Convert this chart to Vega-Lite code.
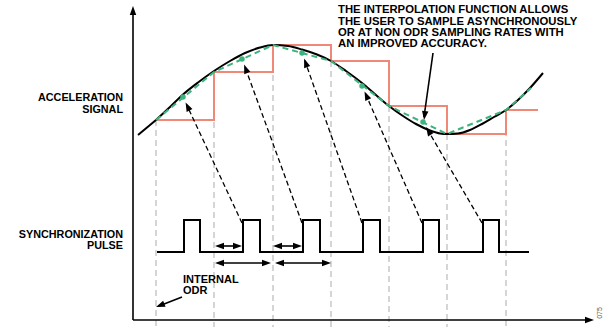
{
  "$schema": "https://vega.github.io/schema/vega-lite/v6.json",
  "width": 608,
  "height": 327,
  "autosize": "none",
  "padding": 0,
  "background": "white",
  "config": {"view": {"stroke": null}},
  "datasets": {
    "odr": [
      {"t": 156, "a": 120}, {"t": 214, "a": 72}, {"t": 273, "a": 45}, {"t": 331, "a": 61},
      {"t": 389, "a": 106}, {"t": 447, "a": 134}, {"t": 506, "a": 110}
    ],
    "hold": [
      {"t": 156, "a": 120}, {"t": 214, "a": 72}, {"t": 273, "a": 45}, {"t": 331, "a": 61},
      {"t": 389, "a": 106}, {"t": 447, "a": 134}, {"t": 506, "a": 110}, {"t": 538, "a": 110}
    ],
    "interp": [
      {"t": 156, "a": 120}, {"t": 214, "a": 72}, {"t": 273, "a": 45}, {"t": 331, "a": 61},
      {"t": 389, "a": 106}, {"t": 447, "a": 134}, {"t": 506, "a": 110}, {"t": 531, "a": 88}
    ],
    "signal": [
      {"t": 138, "a": 135}, {"t": 147, "a": 127.5}, {"t": 156, "a": 120}, {"t": 170, "a": 107},
      {"t": 183, "a": 94.5}, {"t": 198, "a": 82.5}, {"t": 214, "a": 71}, {"t": 230, "a": 61},
      {"t": 245, "a": 53}, {"t": 260, "a": 47.5}, {"t": 273, "a": 45}, {"t": 288, "a": 46},
      {"t": 302, "a": 49.5}, {"t": 317, "a": 54.5}, {"t": 331, "a": 61}, {"t": 346, "a": 71},
      {"t": 362, "a": 83}, {"t": 376, "a": 95}, {"t": 389, "a": 106}, {"t": 403, "a": 116},
      {"t": 416, "a": 124}, {"t": 430, "a": 130.5}, {"t": 440, "a": 133.5}, {"t": 447, "a": 134},
      {"t": 458, "a": 133.5}, {"t": 470, "a": 130}, {"t": 482, "a": 124}, {"t": 494, "a": 117},
      {"t": 506, "a": 110}, {"t": 518, "a": 100}, {"t": 530, "a": 88}, {"t": 543, "a": 73}
    ],
    "dots": [
      {"t": 183, "a": 97}, {"t": 242, "a": 59}, {"t": 302, "a": 53}, {"t": 362, "a": 86}, {"t": 423, "a": 122}
    ],
    "pulse": [
      {"t": 157, "a": 252}, {"t": 184, "a": 220}, {"t": 200, "a": 252}, {"t": 243, "a": 220},
      {"t": 260, "a": 252}, {"t": 303, "a": 220}, {"t": 320, "a": 252}, {"t": 363, "a": 220},
      {"t": 380, "a": 252}, {"t": 423, "a": 220}, {"t": 439, "a": 252}, {"t": 483, "a": 220},
      {"t": 499, "a": 252}, {"t": 529, "a": 252}
    ],
    "dashedArrows": [
      {"t": 242, "a": 223, "t2": 186.5, "a2": 104.5},
      {"t": 302, "a": 223, "t2": 244.8, "a2": 66.5},
      {"t": 362, "a": 223, "t2": 304.8, "a2": 60.5},
      {"t": 422, "a": 223, "t2": 365.4, "a2": 93.5},
      {"t": 482, "a": 223, "t2": 427.2, "a2": 129}
    ],
    "solidArrows": [
      {"t": 133, "a": 320, "t2": 133, "a2": 12},
      {"t": 133, "a": 320, "t2": 588, "a2": 320},
      {"t": 433, "a": 53, "t2": 424, "a2": 117},
      {"t": 218, "a": 246, "t2": 239, "a2": 246},
      {"t": 276, "a": 246, "t2": 299, "a2": 246},
      {"t": 218, "a": 263, "t2": 268, "a2": 263},
      {"t": 278, "a": 263, "t2": 328, "a2": 263},
      {"t": 182, "a": 297, "t2": 159, "a2": 306}
    ],
    "heads": [
      {"id": "d1", "t": 185.6, "a": 102.4}, {"id": "d2", "t": 244.1, "a": 64.6},
      {"id": "d3", "t": 304.1, "a": 58.6}, {"id": "d4", "t": 364.5, "a": 91.5},
      {"id": "d5", "t": 426.1, "a": 127.1}, {"id": "ann", "t": 424, "a": 120},
      {"id": "s1l", "t": 215, "a": 246}, {"id": "s1r", "t": 242, "a": 246},
      {"id": "s2l", "t": 273, "a": 246}, {"id": "s2r", "t": 302, "a": 246},
      {"id": "l1l", "t": 215, "a": 263}, {"id": "l1r", "t": 271, "a": 263},
      {"id": "l2l", "t": 275, "a": 263}, {"id": "l2r", "t": 331, "a": 263},
      {"id": "odr", "t": 156, "a": 307}, {"id": "ya", "t": 133, "a": 6},
      {"id": "xa", "t": 594, "a": 320}
    ],
    "sideLabels": [
      {"text": "ACCELERATION", "t": 123, "a": 98},
      {"text": "SIGNAL", "t": 123, "a": 109.5},
      {"text": "SYNCHRONIZATION", "t": 123, "a": 234.5},
      {"text": "PULSE", "t": 123, "a": 246}
    ],
    "note": [
      {"text": "THE INTERPOLATION FUNCTION ALLOWS", "t": 338, "a": 10},
      {"text": "THE USER TO SAMPLE ASYNCHRONOUSLY", "t": 338, "a": 21.5},
      {"text": "OR AT NON ODR SAMPLING RATES WITH", "t": 338, "a": 32.7},
      {"text": "AN IMPROVED ACCURACY.", "t": 338, "a": 43.6}
    ],
    "odrLabel": [
      {"text": "INTERNAL", "t": 183, "a": 279.5},
      {"text": "ODR", "t": 183, "a": 291}
    ],
    "figId": [{"text": "075", "t": 600, "a": 313}]
  },
  "layer": [
    {
      "data": {"name": "odr"},
      "mark": {"type": "rule", "stroke": "#ababab", "strokeWidth": 1, "strokeDash": [6, 4]},
      "encoding": {
        "x": {"field": "t", "type": "quantitative", "scale": {"domain": [0, 608], "nice": false, "zero": false}, "axis": null},
        "y": {"field": "a", "type": "quantitative", "scale": {"domain": [0, 327], "nice": false, "reverse": true}, "axis": null},
        "y2": {"datum": 327}
      }
    },
    {
      "data": {"name": "hold"},
      "mark": {"type": "line", "interpolate": "step-after", "stroke": "#F08878", "strokeWidth": 2},
      "encoding": {
        "x": {"field": "t", "type": "quantitative"},
        "y": {"field": "a", "type": "quantitative"}
      }
    },
    {
      "data": {"name": "signal"},
      "mark": {"type": "line", "interpolate": "monotone", "stroke": "#000000", "strokeWidth": 2},
      "encoding": {
        "x": {"field": "t", "type": "quantitative"},
        "y": {"field": "a", "type": "quantitative"}
      }
    },
    {
      "data": {"name": "interp"},
      "mark": {"type": "line", "stroke": "#3DB37D", "strokeWidth": 2, "strokeDash": [6, 4]},
      "encoding": {
        "x": {"field": "t", "type": "quantitative"},
        "y": {"field": "a", "type": "quantitative"}
      }
    },
    {
      "data": {"name": "dots"},
      "mark": {"type": "point", "filled": true, "color": "#3DB37D", "size": 30, "opacity": 1},
      "encoding": {
        "x": {"field": "t", "type": "quantitative"},
        "y": {"field": "a", "type": "quantitative"}
      }
    },
    {
      "data": {"name": "pulse"},
      "mark": {"type": "line", "interpolate": "step-after", "stroke": "#000000", "strokeWidth": 2},
      "encoding": {
        "x": {"field": "t", "type": "quantitative"},
        "y": {"field": "a", "type": "quantitative"}
      }
    },
    {
      "data": {"name": "dashedArrows"},
      "mark": {"type": "rule", "stroke": "#000000", "strokeWidth": 1.3, "strokeDash": [5, 3]},
      "encoding": {
        "x": {"field": "t", "type": "quantitative"},
        "y": {"field": "a", "type": "quantitative"},
        "x2": {"field": "t2"},
        "y2": {"field": "a2"}
      }
    },
    {
      "data": {"name": "solidArrows"},
      "mark": {"type": "rule", "stroke": "#000000", "strokeWidth": 1.6},
      "encoding": {
        "x": {"field": "t", "type": "quantitative"},
        "y": {"field": "a", "type": "quantitative"},
        "x2": {"field": "t2"},
        "y2": {"field": "a2"}
      }
    },
    {
      "data": {"name": "heads"},
      "mark": {"type": "point", "filled": true, "color": "#000000", "opacity": 1, "size": 324},
      "encoding": {
        "x": {"field": "t", "type": "quantitative"},
        "y": {"field": "a", "type": "quantitative"},
        "shape": {
          "field": "id", "type": "nominal", "legend": null,
          "scale": {
            "domain": ["d1", "d2", "d3", "d4", "d5", "ann", "s1l", "s1r", "s2l", "s2r", "l1l", "l1r", "l2l", "l2r", "odr", "ya", "xa"],
            "range": [
              "M0,0L0.762,0.741L0.115,1.057Z",
              "M0,0L0.690,0.808L0.017,1.063Z",
              "M0,0L0.682,0.815L0.006,1.063Z",
              "M0,0L0.742,0.761L0.087,1.059Z",
              "M0,0L0.829,0.665L0.216,1.041Z",
              "M0,0L-0.217,-1.040L0.496,-0.940Z",
              "M0,0L1,-0.36L1,0.36Z",
              "M0,0L-1,0.36L-1,-0.36Z",
              "M0,0L1,-0.36L1,0.36Z",
              "M0,0L-1,0.36L-1,-0.36Z",
              "M0,0L1,-0.36L1,0.36Z",
              "M0,0L-1,0.36L-1,-0.36Z",
              "M0,0L1,-0.36L1,0.36Z",
              "M0,0L-1,0.36L-1,-0.36Z",
              "M0,0L0.792,-0.708L1.062,-0.041Z",
              "M0,0L0.36,1L-0.36,1Z",
              "M0,0L-1,0.36L-1,-0.36Z"
            ]
          }
        }
      }
    },
    {
      "data": {"name": "sideLabels"},
      "mark": {"type": "text", "align": "right", "baseline": "middle", "font": "Liberation Sans", "fontWeight": "bold", "fontSize": 10.8, "color": "#000000"},
      "encoding": {
        "x": {"field": "t", "type": "quantitative"},
        "y": {"field": "a", "type": "quantitative"},
        "text": {"field": "text"}
      }
    },
    {
      "data": {"name": "note"},
      "mark": {"type": "text", "align": "left", "baseline": "middle", "font": "Liberation Sans", "fontWeight": "bold", "fontSize": 11.3, "color": "#000000"},
      "encoding": {
        "x": {"field": "t", "type": "quantitative"},
        "y": {"field": "a", "type": "quantitative"},
        "text": {"field": "text"}
      }
    },
    {
      "data": {"name": "odrLabel"},
      "mark": {"type": "text", "align": "left", "baseline": "middle", "font": "Liberation Sans", "fontWeight": "bold", "fontSize": 11, "color": "#000000"},
      "encoding": {
        "x": {"field": "t", "type": "quantitative"},
        "y": {"field": "a", "type": "quantitative"},
        "text": {"field": "text"}
      }
    },
    {
      "data": {"name": "figId"},
      "mark": {"type": "text", "align": "center", "baseline": "middle", "angle": 270, "font": "Liberation Sans", "fontSize": 7, "color": "#555555"},
      "encoding": {
        "x": {"field": "t", "type": "quantitative"},
        "y": {"field": "a", "type": "quantitative"},
        "text": {"field": "text"}
      }
    }
  ]
}
